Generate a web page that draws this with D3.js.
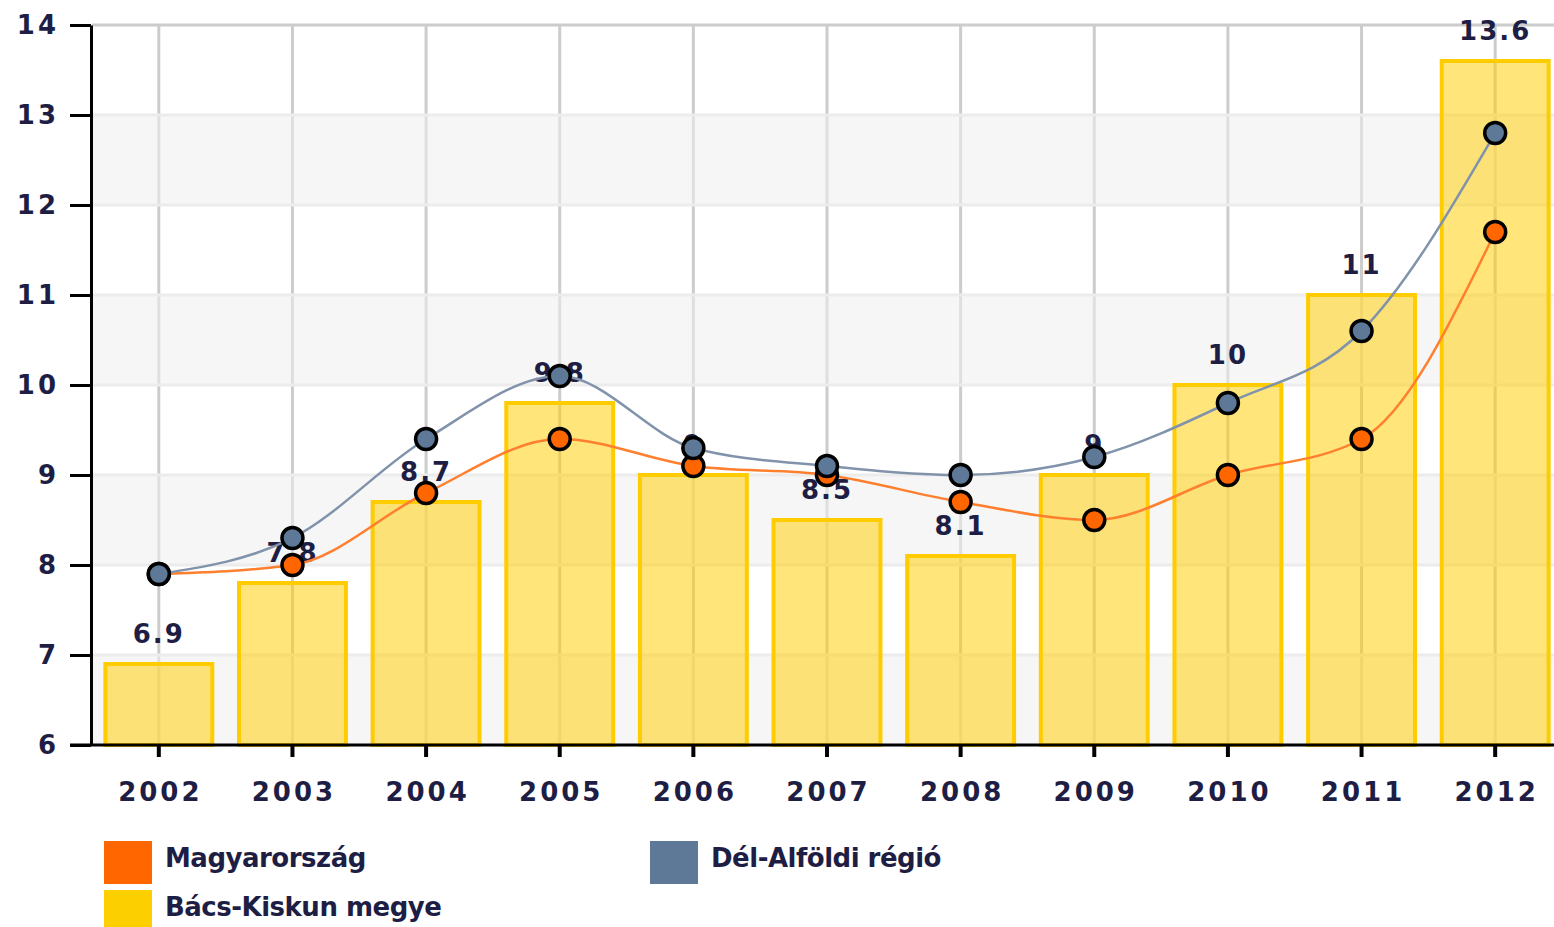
<!DOCTYPE html>
<html>
<head>
<meta charset="utf-8">
<script src="https://cdn.jsdelivr.net/npm/d3@7"></script>
<style>
  body { margin: 0; background: #fff; }
  text { font-family: "DejaVu Sans", Verdana, sans-serif; font-weight: bold; fill: #1e1e44; }
</style>
</head>
<body>
<div id="chart"></div>
<script>

WIDTH = 1554;
HEIGHT = 927;

PLOT_LEFT = 92;
PLOT_RIGHT = 1562;   // last band runs off the right edge, like the picture
PLOT_TOP = 25;
PLOT_BOTTOM = 745;

FONT_SIZE = 26;

// data

var years = ['2002', '2003', '2004', '2005', '2006', '2007', '2008', '2009', '2010', '2011', '2012'];

var bacs_kiskun = [6.9, 7.8, 8.7, 9.8, 9, 8.5, 8.1, 9, 10, 11, 13.6];
var magyarorszag = [7.9, 8.0, 8.8, 9.4, 9.1, 9.0, 8.7, 8.5, 9.0, 9.4, 11.7];
var del_alfold = [7.9, 8.3, 9.4, 10.1, 9.3, 9.1, 9.0, 9.2, 9.8, 10.6, 12.8];

var y_ticks = [6, 7, 8, 9, 10, 11, 12, 13, 14];

var legend_names = ['Magyarország', 'Dél-Alföldi régió', 'Bács-Kiskun megye'];
var legend_colours = ['#ff6600', '#5e7898', '#fcd000'];


var svg = d3.select("#chart").append("svg")
    .attr("width", WIDTH)
    .attr("height", HEIGHT);

var x = d3.scaleBand()
    .domain(years)
    .range([PLOT_LEFT, PLOT_RIGHT])
    .paddingInner(0.2)
    .paddingOuter(0.1);

var y = d3.scaleLinear()
    .domain([6, 14])
    .range([PLOT_BOTTOM, PLOT_TOP]);

function cx(d, i) { return x(years[i]) + x.bandwidth() / 2; }


// vertical grid lines, one per category

svg.append("g")
    .selectAll("line")
    .data(years).enter()
    .append("line")
    .attr("x1", function(d) { return x(d) + x.bandwidth() / 2; })
    .attr("x2", function(d) { return x(d) + x.bandwidth() / 2; })
    .attr("y1", y(14))
    .attr("y2", y(6))
    .attr("stroke", "#cccccc")
    .attr("stroke-width", 3);

// alternating bands (semi transparent so the grid shows lighter through them)

var bands = y_ticks.filter(function(t) { return t < 14 && t % 2 == 0; });

svg.append("g")
    .selectAll("rect")
    .data(bands).enter()
    .append("rect")
    .attr("x", PLOT_LEFT)
    .attr("width", WIDTH - PLOT_LEFT)
    .attr("y", function(d) { return y(d + 1); })
    .attr("height", function(d) { return y(d) - y(d + 1); })
    .attr("fill", "#eeeeee")
    .attr("fill-opacity", 0.55);

svg.append("g")
    .selectAll("line")
    .data(y_ticks.slice(1)).enter()
    .append("line")
    .attr("x1", PLOT_LEFT)
    .attr("x2", WIDTH)
    .attr("y1", function(d) { return y(d); })
    .attr("y2", function(d) { return y(d); })
    .attr("stroke", function(d) { return d == 14 ? "#cccccc" : "#ececec"; })
    .attr("stroke-width", 3);


// bars

svg.append("g")
    .selectAll("rect")
    .data(bacs_kiskun).enter()
    .append("rect")
    .attr("x", function(d, i) { return x(years[i]); })
    .attr("width", x.bandwidth())
    .attr("y", function(d) { return y(d); })
    .attr("height", function(d) { return y(6) - y(d); })
    .attr("fill", "rgba(255,206,0,0.52)")
    .attr("stroke", "#ffcc00")
    .attr("stroke-width", 4);

// bar value labels

svg.append("g")
    .selectAll("text")
    .data(bacs_kiskun).enter()
    .append("text")
    .attr("x", cx)
    .attr("y", function(d) { return y(d) - 30; })
    .attr("dy", "0.36em")
    .attr("text-anchor", "middle")
    .attr("font-size", FONT_SIZE)
    .attr("letter-spacing", "2px")
    .text(function(d) { return d; });


// axes

var y_axis = svg.append("g")
    .attr("transform", "translate(" + (PLOT_LEFT - 1) + ",0)")
    .call(d3.axisLeft(y).tickValues(y_ticks).tickSize(21).tickSizeOuter(0).tickPadding(14));

y_axis.select(".domain").attr("stroke", "#000").attr("stroke-width", 3);
y_axis.selectAll(".tick line").attr("stroke", "#000").attr("stroke-width", 3);
y_axis.selectAll("text")
    .attr("font-size", FONT_SIZE)
    .attr("font-family", "DejaVu Sans")
    .attr("letter-spacing", "3px")
    .attr("fill", "#1e1e44")
    .attr("dx", "3px");

var x_axis = svg.append("g")
    .attr("transform", "translate(0," + PLOT_BOTTOM + ")")
    .call(d3.axisBottom(x).tickSize(12).tickSizeOuter(0).tickPadding(26));

x_axis.select(".domain").remove();
x_axis.selectAll(".tick line").attr("stroke", "#000").attr("stroke-width", 4);
x_axis.selectAll("text")
    .attr("font-size", FONT_SIZE)
    .attr("font-family", "DejaVu Sans")
    .attr("letter-spacing", "3px")
    .attr("fill", "#1e1e44")
    .attr("dx", "1.5px");

x_axis.append("line")
    .attr("x1", 70)
    .attr("x2", WIDTH)
    .attr("stroke", "#000")
    .attr("stroke-width", 3);


// lines with markers

var line = d3.line()
    .x(cx)
    .y(function(d) { return y(d); })
    .curve(d3.curveMonotoneX);

function add_series(values, line_colour) {
    var g = svg.append("g");
    g.append("path")
        .attr("d", line(values))
        .attr("fill", "none")
        .attr("stroke", line_colour)
        .attr("stroke-width", 2.5);
    return g;
}

function add_markers(g, values, marker_colour) {
    g.selectAll("circle")
        .data(values).enter()
        .append("circle")
        .attr("cx", cx)
        .attr("cy", function(d) { return y(d); })
        .attr("r", 10.5)
        .attr("fill", marker_colour)
        .attr("stroke", "#000")
        .attr("stroke-width", 3.5);
}

var orange_g = add_series(magyarorszag, "#ff7f2e");
var grey_g = add_series(del_alfold, "#8193ab");
add_markers(orange_g, magyarorszag, "#ff6600");
add_markers(grey_g, del_alfold, "#5e7898");


// legend

var legend_pos = [[104, 841], [650, 841], [104, 890]];

var legend = svg.append("g")
    .selectAll("g")
    .data(legend_names).enter()
    .append("g")
    .attr("transform", function(d, i) { return "translate(" + legend_pos[i][0] + "," + legend_pos[i][1] + ")"; });

legend.append("rect")
    .attr("width", 48)
    .attr("height", 43)
    .attr("fill", function(d, i) { return legend_colours[i]; });

legend.append("text")
    .attr("x", 61)
    .attr("y", 26)
    .attr("font-size", FONT_SIZE)
    .attr("letter-spacing", "-0.5px")
    .text(function(d) { return d; });

</script>
</body>
</html>
